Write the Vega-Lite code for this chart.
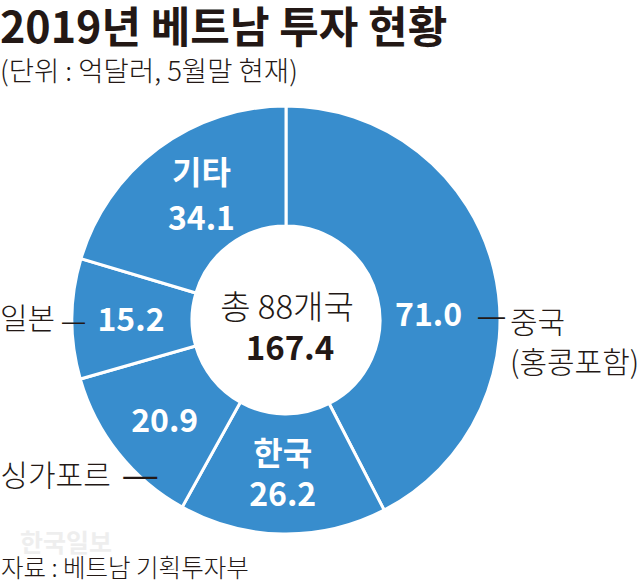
{
  "$schema": "https://vega.github.io/schema/vega-lite/v6.json",
  "width": 640,
  "height": 483,
  "padding": {"left": 0, "top": 100, "right": 0, "bottom": 0},
  "autosize": "none",
  "background": "#ffffff",
  "view": {"stroke": null},
  "config": {"font": "Noto Sans CJK KR"},
  "title": {
    "text": "2019년 베트남 투자 현황",
    "subtitle": "(단위 : 억달러, 5월말 현재)",
    "anchor": "start",
    "frame": "group",
    "font": "Noto Sans CJK KR",
    "fontSize": 43,
    "fontWeight": 700,
    "color": "#231815",
    "subtitleFont": "Noto Sans CJK KR",
    "subtitleFontSize": 27.5,
    "subtitleFontWeight": 300,
    "subtitleColor": "#231815",
    "subtitlePadding": 7,
    "offset": 14
  },
  "data": {
    "values": [
      {"country": "중국", "rank": 1, "amount": 71.0, "inner": "71.0", "outer": "중국\n(홍콩포함)", "leader": "—"},
      {"country": "한국", "rank": 2, "amount": 26.2, "inner": "한국\n26.2", "outer": "", "leader": ""},
      {"country": "싱가포르", "rank": 3, "amount": 20.9, "inner": "20.9", "outer": "싱가포르", "leader": "—"},
      {"country": "일본", "rank": 4, "amount": 15.2, "inner": "15.2", "outer": "일본", "leader": "—"},
      {"country": "기타", "rank": 5, "amount": 34.1, "inner": "기타\n34.1", "outer": "", "leader": ""}
    ]
  },
  "encoding": {
    "theta": {"field": "amount", "type": "quantitative", "stack": true},
    "order": {"field": "rank", "type": "ordinal"}
  },
  "layer": [
    {
      "mark": {"type": "arc", "x": 286, "y": 220, "innerRadius": 94, "outerRadius": 214, "fill": "#388DCD", "stroke": "#ffffff", "strokeWidth": 3}
    },
    {
      "mark": {
        "type": "text", "x": 286, "y": 220, "radius": 155,
        "fontSize": 32, "fontWeight": 700, "color": "#ffffff",
        "lineBreak": "\n",
        "lineHeight": {"expr": "datum.country == '한국' ? 41 : 46"},
        "dx": {"expr": "datum.country == '중국' ? -8 : datum.country == '한국' ? -1 : datum.country == '기타' ? 8 : 0"},
        "dy": {"expr": "datum.country == '중국' ? 33 : datum.country == '한국' ? -20 : datum.country == '기타' ? -22 : datum.country == '싱가포르' ? 6 : 2"}
      },
      "encoding": {"text": {"field": "inner"}}
    },
    {
      "mark": {
        "type": "text", "x": 286, "y": 220, "radius": 250, "align": "left",
        "fontSize": 30, "fontWeight": 300, "color": "#231815",
        "lineBreak": "\n", "lineHeight": 40,
        "dx": {"expr": "datum.country == '중국' ? -19 : datum.country == '일본' ? -36 : -90"},
        "dy": {"expr": "datum.country == '중국' ? 63 : 1"}
      },
      "encoding": {"text": {"field": "outer"}}
    },
    {
      "mark": {
        "type": "text", "x": 286, "y": 220, "radius": 250, "align": "left", "font": "Liberation Sans",
        "color": "#231815",
        "fontSize": {"expr": "datum.country == '중국' ? 27 : datum.country == '일본' ? 23 : 34"},
        "dx": {"expr": "datum.country == '중국' ? -51 : datum.country == '일본' ? 26 : 33"},
        "dy": {"expr": "datum.country == '중국' ? 56 : datum.country == '일본' ? 3 : 0"}
      },
      "encoding": {"text": {"field": "leader"}}
    },
    {
      "data": {"values": [{"label": "총 88개국"}]},
      "mark": {"type": "text", "x": 287, "y": 209, "fontSize": 33, "fontWeight": 300, "color": "#231815"},
      "encoding": {"theta": null, "order": null, "text": {"field": "label"}}
    },
    {
      "data": {"values": [{"label": "167.4"}]},
      "mark": {"type": "text", "x": 290, "y": 250, "fontSize": 33, "fontWeight": 700, "color": "#231815"},
      "encoding": {"theta": null, "order": null, "text": {"field": "label"}}
    },
    {
      "data": {"values": [{"label": "한국일보"}]},
      "mark": {"type": "text", "x": 20, "y": 444, "align": "left", "fontSize": 25, "fontWeight": 700, "color": "#e4e4e4", "opacity": 0.6},
      "encoding": {"theta": null, "order": null, "text": {"field": "label"}}
    },
    {
      "data": {"values": [{"label": "자료 : 베트남 기획투자부"}]},
      "mark": {"type": "text", "x": 1, "y": 470, "align": "left", "fontSize": 24.5, "fontWeight": 300, "color": "#231815"},
      "encoding": {"theta": null, "order": null, "text": {"field": "label"}}
    }
  ]
}
